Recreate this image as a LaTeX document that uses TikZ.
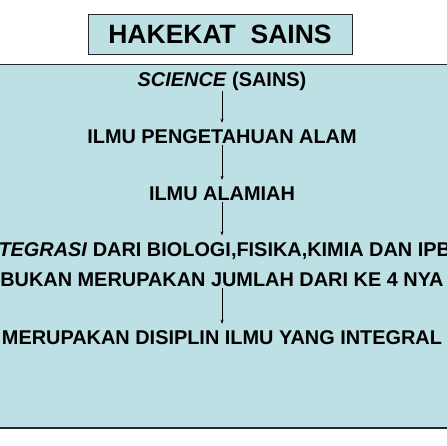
\documentclass[tikz,border=0pt]{standalone}
\usepackage{fontspec}
\setmainfont{Liberation Sans}
\usepackage{tikz}
\usetikzlibrary{arrows.meta}
\definecolor{panelfill}{RGB}{188,224,227}
\definecolor{edgeline}{RGB}{30,40,40}

\begin{document}
\begin{tikzpicture}[x=1pt,y=1pt,
    txt/.style={font=\fontsize{19.9}{22}\selectfont\bfseries, inner sep=1pt},
    link/.style={-{Stealth[length=4pt,width=3pt]}, thin}]
    \useasboundingbox (0,0) rectangle (446,446);
    \fill[white] (0,0) rectangle (446,446);

    % Title
    \draw[edgeline, fill=panelfill] (88,432) rectangle (352,392);
    \node[font=\fontsize{26.5}{30}\selectfont\bfseries] (title) at (220,412) {HAKEKAT\ \ SAINS};

    % Panel
    \fill[panelfill] (-5,382) rectangle (451,18);
    \draw[edgeline] (-5,382) -- (451,382);
    \draw[edgeline, line width=1.6pt] (-5,18) -- (451,18);

    % Text lines
    \node[txt] (sci) at (222,365) {\textit{SCIENCE} (SAINS)};
    \node[txt] (ipa) at (222,309) {ILMU PENGETAHUAN ALAM};
    \node[txt] (alam) at (222,252) {ILMU ALAMIAH};
    \node[txt] (integ) at (222,195) {\textit{INTEGRASI} DARI BIOLOGI,FISIKA,KIMIA DAN IPBA};
    \node[txt] (bukan) at (222,166) {BUKAN MERUPAKAN JUMLAH DARI KE 4 NYA};
    \node[txt] (disiplin) at (222,108) {MERUPAKAN DISIPLIN ILMU YANG INTEGRAL};

    % Arrows
    \draw[link] (sci.south) -- ([yshift=6pt]ipa.north);
    \draw[link] (ipa.south) -- ([yshift=6pt]alam.north);
    \draw[link] (alam.south) -- ([yshift=6pt]integ.north);
    \draw[link] (bukan.south) -- ([yshift=6pt]disiplin.north);
\end{tikzpicture}
\end{document}
